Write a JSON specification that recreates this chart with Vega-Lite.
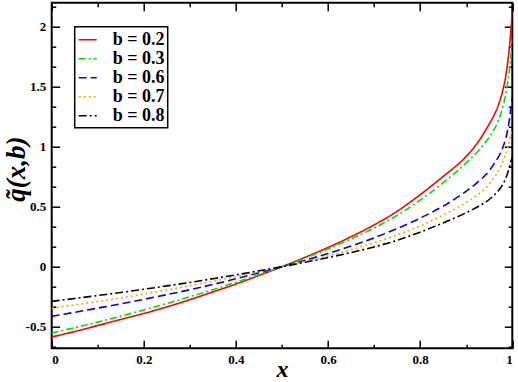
{
  "$schema": "https://vega.github.io/schema/vega-lite/v6.json",
  "width": 460.6,
  "height": 345.6,
  "autosize": {"type": "none"},
  "padding": {"left": 51.7, "top": 2.7, "right": 5.7, "bottom": 33.7},
  "background": "white",
  "datasets": {
    "d": [
      {"b":"b = 0.2","x":0,"q":-0.586},{"b":"b = 0.2","x":0.05,"q":-0.54},{"b":"b = 0.2","x":0.1,"q":-0.49},{"b":"b = 0.2","x":0.15,"q":-0.44},{"b":"b = 0.2","x":0.2,"q":-0.39},{"b":"b = 0.2","x":0.25,"q":-0.335},{"b":"b = 0.2","x":0.3,"q":-0.275},{"b":"b = 0.2","x":0.35,"q":-0.21},{"b":"b = 0.2","x":0.4,"q":-0.145},{"b":"b = 0.2","x":0.45,"q":-0.073},{"b":"b = 0.2","x":0.5,"q":0},{"b":"b = 0.2","x":0.55,"q":0.078},{"b":"b = 0.2","x":0.6,"q":0.16},{"b":"b = 0.2","x":0.65,"q":0.25},{"b":"b = 0.2","x":0.7,"q":0.348},{"b":"b = 0.2","x":0.75,"q":0.462},{"b":"b = 0.2","x":0.8,"q":0.6},{"b":"b = 0.2","x":0.85,"q":0.752},{"b":"b = 0.2","x":0.9,"q":0.92},{"b":"b = 0.2","x":0.925,"q":1.035},{"b":"b = 0.2","x":0.95,"q":1.19},{"b":"b = 0.2","x":0.96,"q":1.26},{"b":"b = 0.2","x":0.97,"q":1.35},{"b":"b = 0.2","x":0.98,"q":1.48},{"b":"b = 0.2","x":0.985,"q":1.57},{"b":"b = 0.2","x":0.99,"q":1.7},{"b":"b = 0.2","x":0.995,"q":1.88},{"b":"b = 0.2","x":0.998,"q":2.02},{"b":"b = 0.2","x":1,"q":2.12},
      {"b":"b = 0.3","x":0,"q":-0.553},{"b":"b = 0.3","x":0.05,"q":-0.508},{"b":"b = 0.3","x":0.1,"q":-0.462},{"b":"b = 0.3","x":0.15,"q":-0.413},{"b":"b = 0.3","x":0.2,"q":-0.36},{"b":"b = 0.3","x":0.25,"q":-0.307},{"b":"b = 0.3","x":0.3,"q":-0.25},{"b":"b = 0.3","x":0.35,"q":-0.192},{"b":"b = 0.3","x":0.4,"q":-0.13},{"b":"b = 0.3","x":0.45,"q":-0.066},{"b":"b = 0.3","x":0.5,"q":0},{"b":"b = 0.3","x":0.55,"q":0.072},{"b":"b = 0.3","x":0.6,"q":0.148},{"b":"b = 0.3","x":0.65,"q":0.232},{"b":"b = 0.3","x":0.7,"q":0.322},{"b":"b = 0.3","x":0.75,"q":0.428},{"b":"b = 0.3","x":0.8,"q":0.555},{"b":"b = 0.3","x":0.85,"q":0.7},{"b":"b = 0.3","x":0.9,"q":0.865},{"b":"b = 0.3","x":0.925,"q":0.96},{"b":"b = 0.3","x":0.95,"q":1.08},{"b":"b = 0.3","x":0.96,"q":1.14},{"b":"b = 0.3","x":0.97,"q":1.22},{"b":"b = 0.3","x":0.98,"q":1.34},{"b":"b = 0.3","x":0.985,"q":1.42},{"b":"b = 0.3","x":0.99,"q":1.53},{"b":"b = 0.3","x":0.995,"q":1.68},{"b":"b = 0.3","x":0.998,"q":1.8},{"b":"b = 0.3","x":1,"q":1.9},
      {"b":"b = 0.6","x":0,"q":-0.414},{"b":"b = 0.6","x":0.05,"q":-0.38},{"b":"b = 0.6","x":0.1,"q":-0.345},{"b":"b = 0.6","x":0.15,"q":-0.31},{"b":"b = 0.6","x":0.2,"q":-0.272},{"b":"b = 0.6","x":0.25,"q":-0.233},{"b":"b = 0.6","x":0.3,"q":-0.192},{"b":"b = 0.6","x":0.35,"q":-0.148},{"b":"b = 0.6","x":0.4,"q":-0.1},{"b":"b = 0.6","x":0.45,"q":-0.05},{"b":"b = 0.6","x":0.5,"q":0},{"b":"b = 0.6","x":0.55,"q":0.053},{"b":"b = 0.6","x":0.6,"q":0.11},{"b":"b = 0.6","x":0.65,"q":0.172},{"b":"b = 0.6","x":0.7,"q":0.24},{"b":"b = 0.6","x":0.75,"q":0.318},{"b":"b = 0.6","x":0.8,"q":0.405},{"b":"b = 0.6","x":0.85,"q":0.505},{"b":"b = 0.6","x":0.9,"q":0.63},{"b":"b = 0.6","x":0.925,"q":0.705},{"b":"b = 0.6","x":0.95,"q":0.8},{"b":"b = 0.6","x":0.96,"q":0.855},{"b":"b = 0.6","x":0.97,"q":0.915},{"b":"b = 0.6","x":0.98,"q":1.0},{"b":"b = 0.6","x":0.985,"q":1.06},{"b":"b = 0.6","x":0.99,"q":1.14},{"b":"b = 0.6","x":0.995,"q":1.26},{"b":"b = 0.6","x":0.998,"q":1.36},{"b":"b = 0.6","x":1,"q":1.41},
      {"b":"b = 0.7","x":0,"q":-0.347},{"b":"b = 0.7","x":0.05,"q":-0.318},{"b":"b = 0.7","x":0.1,"q":-0.29},{"b":"b = 0.7","x":0.15,"q":-0.26},{"b":"b = 0.7","x":0.2,"q":-0.228},{"b":"b = 0.7","x":0.25,"q":-0.194},{"b":"b = 0.7","x":0.3,"q":-0.158},{"b":"b = 0.7","x":0.35,"q":-0.121},{"b":"b = 0.7","x":0.4,"q":-0.082},{"b":"b = 0.7","x":0.45,"q":-0.041},{"b":"b = 0.7","x":0.5,"q":0},{"b":"b = 0.7","x":0.55,"q":0.044},{"b":"b = 0.7","x":0.6,"q":0.09},{"b":"b = 0.7","x":0.65,"q":0.142},{"b":"b = 0.7","x":0.7,"q":0.2},{"b":"b = 0.7","x":0.75,"q":0.265},{"b":"b = 0.7","x":0.8,"q":0.34},{"b":"b = 0.7","x":0.85,"q":0.43},{"b":"b = 0.7","x":0.9,"q":0.535},{"b":"b = 0.7","x":0.925,"q":0.6},{"b":"b = 0.7","x":0.95,"q":0.69},{"b":"b = 0.7","x":0.96,"q":0.74},{"b":"b = 0.7","x":0.97,"q":0.8},{"b":"b = 0.7","x":0.98,"q":0.88},{"b":"b = 0.7","x":0.985,"q":0.93},{"b":"b = 0.7","x":0.99,"q":0.99},{"b":"b = 0.7","x":0.995,"q":1.07},{"b":"b = 0.7","x":0.998,"q":1.12},{"b":"b = 0.7","x":1,"q":1.15},
      {"b":"b = 0.8","x":0,"q":-0.289},{"b":"b = 0.8","x":0.05,"q":-0.265},{"b":"b = 0.8","x":0.1,"q":-0.24},{"b":"b = 0.8","x":0.15,"q":-0.215},{"b":"b = 0.8","x":0.2,"q":-0.188},{"b":"b = 0.8","x":0.25,"q":-0.16},{"b":"b = 0.8","x":0.3,"q":-0.131},{"b":"b = 0.8","x":0.35,"q":-0.1},{"b":"b = 0.8","x":0.4,"q":-0.068},{"b":"b = 0.8","x":0.45,"q":-0.034},{"b":"b = 0.8","x":0.5,"q":0},{"b":"b = 0.8","x":0.55,"q":0.037},{"b":"b = 0.8","x":0.6,"q":0.076},{"b":"b = 0.8","x":0.65,"q":0.118},{"b":"b = 0.8","x":0.7,"q":0.165},{"b":"b = 0.8","x":0.75,"q":0.22},{"b":"b = 0.8","x":0.8,"q":0.288},{"b":"b = 0.8","x":0.85,"q":0.365},{"b":"b = 0.8","x":0.9,"q":0.45},{"b":"b = 0.8","x":0.925,"q":0.5},{"b":"b = 0.8","x":0.95,"q":0.56},{"b":"b = 0.8","x":0.96,"q":0.595},{"b":"b = 0.8","x":0.97,"q":0.635},{"b":"b = 0.8","x":0.98,"q":0.69},{"b":"b = 0.8","x":0.985,"q":0.73},{"b":"b = 0.8","x":0.99,"q":0.78},{"b":"b = 0.8","x":0.995,"q":0.85},{"b":"b = 0.8","x":0.998,"q":0.89},{"b":"b = 0.8","x":1,"q":0.91}
    ]
  },
  "data": {"name": "d"},
  "resolve": {"axis": {"x": "independent", "y": "independent"}},
  "layer": [
    {
      "mark": {"type": "line", "strokeWidth": 1.6, "clip": true, "interpolate": "monotone"},
      "encoding": {
        "x": {"field": "x", "type": "quantitative", "scale": {"domain": [0, 1], "nice": false, "zero": false},
          "axis": {"orient": "bottom", "values": [0, 0.2, 0.4, 0.6, 0.8, 1], "ticks": false, "domain": false, "labelPadding": 5, "labelExpr": "toString(datum.value)", "title": "x", "titleFontSize": 24, "titleX": 230.3, "titleY": 33, "titleBaseline": "bottom", "titleAlign": "center"}},
        "y": {"field": "q", "type": "quantitative", "scale": {"domain": [-0.68, 2.2], "nice": false, "zero": false},
          "axis": {"orient": "left", "values": [-0.5, 0, 0.5, 1, 1.5, 2], "ticks": false, "domain": false, "labelPadding": 6, "labelExpr": "toString(datum.value)", "title": "q̃(x,b)", "titleFontSize": 27, "titleX": -35, "titleY": 166, "titleAngle": -90, "titleBaseline": "middle", "titleAlign": "center"}},
        "color": {"field": "b", "type": "nominal",
          "scale": {"domain": ["b = 0.2", "b = 0.3", "b = 0.6", "b = 0.7", "b = 0.8"], "range": ["#ff0000", "#00e000", "#0000ff", "#ffa500", "#000000"]},
          "legend": {"orient": "none", "legendX": 23, "legendY": 24, "title": null, "symbolType": "stroke", "symbolSize": 324, "symbolStrokeWidth": 1.6, "labelFontSize": 18, "labelFontWeight": "bold", "labelFont": "Liberation Serif", "labelColor": "black", "strokeColor": "black", "fillColor": "white", "padding": 3, "rowPadding": 0, "labelOffset": 15}},
        "strokeDash": {"field": "b", "type": "nominal",
          "scale": {"domain": ["b = 0.2", "b = 0.3", "b = 0.6", "b = 0.7", "b = 0.8"], "range": [[1, 0], [7, 3, 2, 3], [8, 4], [2, 3], [8, 3, 2, 3]]},
          "legend": {"orient": "none", "legendX": 23, "legendY": 24, "title": null, "symbolType": "stroke", "symbolSize": 324, "symbolStrokeWidth": 1.6, "labelFontSize": 18, "labelFontWeight": "bold", "labelFont": "Liberation Serif", "labelColor": "black", "strokeColor": "black", "fillColor": "white", "padding": 3, "rowPadding": 0, "labelOffset": 15}}
      }
    },
    {
      "mark": {"type": "line", "opacity": 0},
      "encoding": {
        "x": {"field": "x", "type": "quantitative", "axis": {"orient": "bottom", "values": [0, 0.2, 0.4, 0.6, 0.8, 1], "labels": false, "tickSize": -8, "title": null}},
        "y": {"field": "q", "type": "quantitative", "axis": {"orient": "left", "values": [-0.5, 0, 0.5, 1, 1.5, 2], "labels": false, "tickSize": -8, "title": null}},
        "detail": {"field": "b"}
      }
    },
    {
      "mark": {"type": "line", "opacity": 0},
      "encoding": {
        "x": {"field": "x", "type": "quantitative", "axis": {"orient": "bottom", "values": [0.1, 0.3, 0.5, 0.7, 0.9], "labels": false, "tickSize": -4, "title": null}},
        "y": {"field": "q", "type": "quantitative", "axis": {"orient": "left", "values": [-0.6667, -0.3333, -0.1667, 0.1667, 0.3333, 0.6667, 0.8333, 1.1667, 1.3333, 1.6667, 1.8333, 2.1667], "labels": false, "tickSize": -4, "title": null}},
        "detail": {"field": "b"}
      }
    },
    {
      "mark": {"type": "line", "opacity": 0},
      "encoding": {
        "x": {"field": "x", "type": "quantitative", "axis": {"orient": "top", "values": [0, 0.2, 0.4, 0.6, 0.8, 1], "labels": false, "tickSize": -8, "title": null}},
        "y": {"field": "q", "type": "quantitative", "axis": {"orient": "right", "values": [-0.5, 0, 0.5, 1, 1.5, 2], "labels": false, "tickSize": -8, "title": null}},
        "detail": {"field": "b"}
      }
    },
    {
      "mark": {"type": "line", "opacity": 0},
      "encoding": {
        "x": {"field": "x", "type": "quantitative", "axis": {"orient": "top", "values": [0.1, 0.3, 0.5, 0.7, 0.9], "labels": false, "tickSize": -4, "title": null}},
        "y": {"field": "q", "type": "quantitative", "axis": {"orient": "right", "values": [-0.6667, -0.3333, -0.1667, 0.1667, 0.3333, 0.6667, 0.8333, 1.1667, 1.3333, 1.6667, 1.8333, 2.1667], "labels": false, "tickSize": -4, "title": null}},
        "detail": {"field": "b"}
      }
    }
  ],
  "config": {
    "font": "Liberation Serif",
    "view": {"stroke": "black", "strokeWidth": 2},
    "legend": {"strokeWidth": 1.5},
    "axis": {"labelFont": "Liberation Serif", "labelFontWeight": "bold", "labelFontSize": 13, "labelColor": "black", "tickColor": "black", "tickWidth": 1.5, "grid": false, "domain": false, "titleFont": "Liberation Serif", "titleFontStyle": "italic", "titleFontWeight": "bold", "titleColor": "black"}
  }
}
